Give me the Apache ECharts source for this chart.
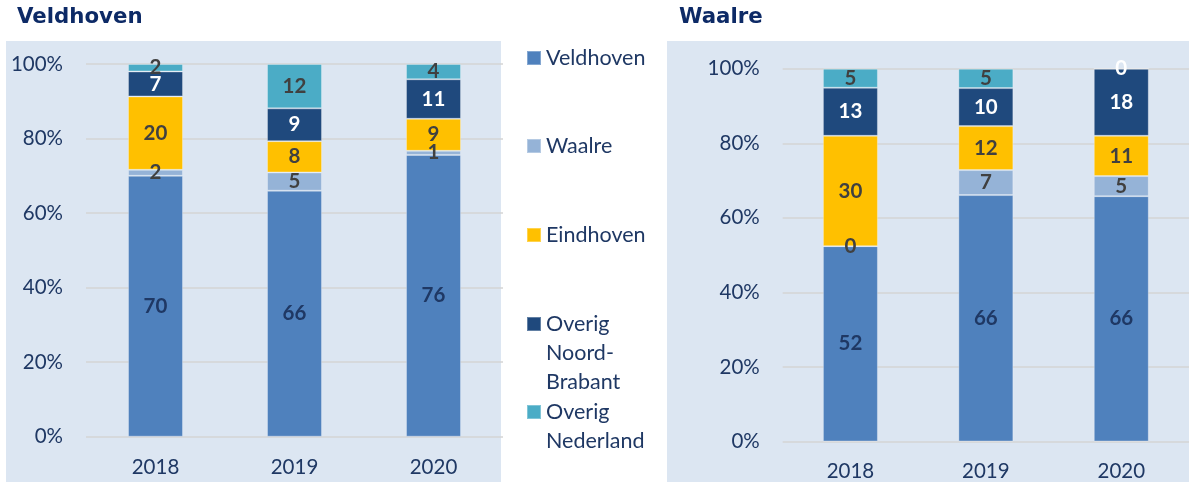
<!DOCTYPE html>
<html>
<head>
<meta charset="utf-8">
<script src="https://cdn.jsdelivr.net/npm/echarts@6/dist/echarts.min.js"></script>
<style>
html,body{margin:0;padding:0;background:#ffffff;}
#chart{width:1189px;height:482px;}
</style>
</head>
<body>
<div id="chart"></div>
<script>
const categories = ['2018', '2019', '2020'];
const seriesNames = ['Veldhoven', 'Waalre', 'Eindhoven', 'Overig Noord-Brabant', 'Overig Nederland'];
const panelTitles = ['Veldhoven', 'Waalre'];

// Veldhoven panel (share in %)
const veldVeldhoven = [70.0, 66.0, 75.6];
const veldWaalre = [1.6, 4.9, 1.1];
const veldEindhoven = [19.7, 8.4, 8.6];
const veldOverigNB = [6.7, 8.8, 10.6];
const veldOverigNL = [2.0, 11.9, 4.1];

// Waalre panel (share in %)
const waalVeldhoven = [52.4, 66.1, 65.8];
const waalWaalre = [0, 6.7, 5.4];
const waalEindhoven = [29.6, 11.8, 10.8];
const waalOverigNB = [12.9, 10.2, 18.0];
const waalOverigNL = [5.1, 5.2, 0];

const yMin = 0, yMax = 100, yInterval = 20;

const colors = ['#4f81bd', '#95b3d7', '#ffc000', '#1f497d', '#4bacc6'];
const labelColors = ['#1f3864', '#404040', '#404040', '#ffffff', '#404040'];
const NAVY = '#1f3864';
const FONT = 'Lato, "Open Sans", sans-serif';

const chart = echarts.init(document.getElementById('chart'), null, {renderer: 'canvas'});

const veldData = [veldVeldhoven, veldWaalre, veldEindhoven, veldOverigNB, veldOverigNL];
const waalData = [waalVeldhoven, waalWaalre, waalEindhoven, waalOverigNB, waalOverigNL];

function makeSeries(dataSets, idx, stackName) {
  return seriesNames.map((name, s) => {
    let data = dataSets[s].slice();
    if (idx === 1 && s === 4) {
      data = data.map((v, i) => i === 2 ? {value: v, label: {color: '#ffffff'}} : v);
    }
    return {
      name: name,
      type: 'bar',
      stack: stackName,
      xAxisIndex: idx,
      yAxisIndex: idx,
      barWidth: 55,
      itemStyle: {color: colors[s], borderColor: 'rgba(255,255,255,0.3)', borderWidth: 1},
      label: {
        show: true,
        position: 'inside',
        color: labelColors[s],
        fontFamily: FONT,
        fontWeight: 'bold',
        fontSize: 20.5,
        formatter: p => String(Math.round(p.value))
      },
      emphasis: {disabled: true},
      data: data
    };
  });
}

function legendItem(name, top, text) {
  return {
    orient: 'vertical',
    left: 526,
    top: top,
    padding: 0,
    icon: 'rect',
    itemWidth: 14,
    itemHeight: 14,
    selectedMode: false,
    data: [name],
    formatter: () => text,
    textStyle: {fontFamily: FONT, fontSize: 21.5, color: NAVY, lineHeight: 29}
  };
}

function xAxis(idx, margin) {
  return {
    type: 'category',
    gridIndex: idx,
    data: categories,
    axisLine: {show: false},
    axisTick: {show: false},
    axisLabel: {color: NAVY, fontFamily: FONT, fontSize: 20.5, lineHeight: 20, margin: margin}
  };
}
function yAxis(idx) {
  return {
    type: 'value',
    gridIndex: idx,
    min: yMin, max: yMax, interval: yInterval,
    axisLine: {show: false},
    axisTick: {show: false},
    splitLine: {lineStyle: {color: '#d4d4d4', width: 1.5}},
    axisLabel: {color: NAVY, fontFamily: FONT, fontSize: 20.5, margin: 23, formatter: '{value}%'}
  };
}

const option = {
  animation: false,
  backgroundColor: '#ffffff',
  graphic: [
    {type: 'rect', left: 6, top: 41, shape: {width: 495, height: 441}, style: {fill: '#dce6f2'}, silent: true, z: -10},
    {type: 'rect', left: 667, top: 41, shape: {width: 522, height: 441}, style: {fill: '#dce6f2'}, silent: true, z: -10}
  ],
  title: [
    {text: panelTitles[0], left: 17, top: 5, padding: 0,
     textStyle: {fontFamily: '"DejaVu Sans"', fontWeight: 'bold', fontSize: 21.3, color: '#0d2a66', lineHeight: 24}},
    {text: panelTitles[1], left: 679, top: 5, padding: 0,
     textStyle: {fontFamily: '"DejaVu Sans"', fontWeight: 'bold', fontSize: 21.3, color: '#0d2a66', lineHeight: 24}}
  ],
  legend: [
    legendItem(seriesNames[0], 58 - 14.5, 'Veldhoven'),
    legendItem(seriesNames[1], 146 - 14.5, 'Waalre'),
    legendItem(seriesNames[2], 235 - 14.5, 'Eindhoven'),
    legendItem(seriesNames[3], 324 - 72.5, '\n\nOverig\nNoord-\nBrabant'),
    legendItem(seriesNames[4], 412 - 43.5, '\nOverig\nNederland')
  ],
  grid: [
    {left: 86, top: 64, width: 417, height: 372.7},
    {left: 782.7, top: 68.7, width: 415, height: 373}
  ],
  xAxis: [xAxis(0, 21), xAxis(1, 20)],
  yAxis: [yAxis(0), yAxis(1)],
  series: makeSeries(veldData, 0, 'veld').concat(makeSeries(waalData, 1, 'waal'))
};

chart.setOption(option);
</script>
</body>
</html>
